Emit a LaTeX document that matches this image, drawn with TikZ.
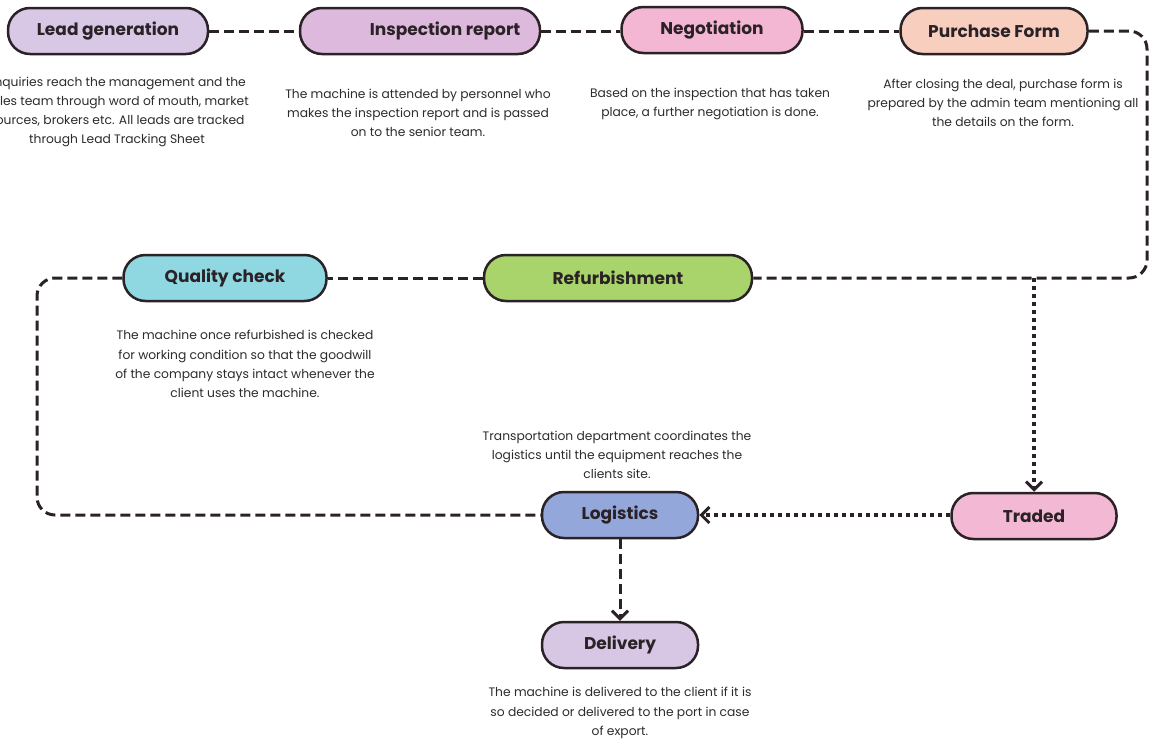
\documentclass[tikz,border=0pt]{standalone}
\usepackage{fontspec}
\setmainfont{Poppins}
\usetikzlibrary{arrows.meta}
\definecolor{ink}{HTML}{2A2226}
\definecolor{desctext}{HTML}{2E2B2E}
\definecolor{cLead}{HTML}{D9C7E6}
\definecolor{cInsp}{HTML}{DDB9DE}
\definecolor{cNego}{HTML}{F4B7D3}
\definecolor{cPurch}{HTML}{F8CFBF}
\definecolor{cQual}{HTML}{8FD7E1}
\definecolor{cRef}{HTML}{A9D46B}
\definecolor{cTrad}{HTML}{F3B8D3}
\definecolor{cLog}{HTML}{94A7DA}
\definecolor{cDel}{HTML}{D7C7E5}
\begin{document}
\begin{tikzpicture}[x=1pt,y=-1pt,
  stage/.style={draw=ink, line width=2.5pt, rounded corners=22pt, minimum height=46pt, inner sep=0pt,
    font=\bfseries\fontsize{17}{20}\selectfont, text=ink},
  desc/.style={align=center, font=\fontsize{12.3}{19.3}\selectfont, text=desctext},
  dashline/.style={draw=ink, line width=3pt, dash pattern=on 10pt off 5pt},
  dotline/.style={draw=ink, line width=3.5pt, dash pattern=on 4pt off 4pt},
  tip/.style={-{Straight Barb[length=8pt,width=16pt,line width=3pt]}}
]
\fill[white] (0,0) rectangle (1150,747);
\useasboundingbox (0,0) rectangle (1150,747);

% stages
\node[stage, fill=cLead, minimum width=200pt] (lead) at (108,31) {Lead generation};
\node[stage, fill=cInsp, minimum width=240pt] (insp) at (420,31) {\hspace*{50pt}Inspection report};
\node[stage, fill=cNego, minimum width=181pt] (nego) at (712,30) {Negotiation};
\node[stage, fill=cPurch, minimum width=187pt] (purch) at (994,31) {Purchase Form};
\node[stage, fill=cQual, minimum width=203pt] (qual) at (225,278) {Quality check};
\node[stage, fill=cRef, minimum width=268pt] (refurb) at (618,278) {Refurbishment};
\node[stage, fill=cTrad, minimum width=165pt] (traded) at (1034,516) {Traded};
\node[stage, fill=cLog, minimum width=156pt] (logi) at (620,515) {Logistics};
\node[stage, fill=cDel, minimum width=156pt] (deliv) at (620,645) {Delivery};

% descriptions
\node[desc] (leaddesc) at (117,112) {Enquiries reach the management and the\\sales team through word of mouth, market\\sources, brokers etc. All leads are tracked\\through Lead Tracking Sheet};
\node[desc] (inspdesc) at (418,113) {The machine is attended by personnel who\\makes the inspection report and is passed\\on to the senior team.};
\node[desc] (negodesc) at (710,104) {Based on the inspection that has taken\\place, a further negotiation is done.};
\node[desc] (purchdesc) at (1003,103) {After closing the deal, purchase form is\\prepared by the admin team mentioning all\\the details on the form.};
\node[desc] (qualdesc) at (245,364) {The machine once refurbished is checked\\for working condition so that the goodwill\\of the company stays intact whenever the\\client uses the machine.};
\node[desc] (logdesc) at (617,455) {Transportation department coordinates the\\logistics until the equipment reaches the\\clients site.};
\node[desc] (deldesc) at (620,713) {The machine is delivered to the client if it is\\so decided or delivered to the port in case\\of export.};

% connectors
\coordinate (rcorner) at (1147,31);
\coordinate (lcorner) at (37,278);
\draw[dashline] (lead.east) -- (insp.west);
\draw[dashline] (insp.east) -- (nego.west |- insp.east);
\draw[dashline] (nego.east |- purch.west) -- (purch.west);
\draw[dashline, rounded corners=18pt] (purch.east) -- (rcorner) |- (refurb.east);
\draw[dashline] (refurb.west) -- (qual.east);
\draw[dashline, rounded corners=18pt] (qual.west) -- (lcorner) |- (logi.west);
\draw[dotline, tip] (traded.north |- refurb.east) -- (traded.north);
\draw[dotline, tip] (traded.west |- logi.east) -- (logi.east);
\draw[dashline, tip] (logi.south) -- (deliv.north);
\end{tikzpicture}
\end{document}
